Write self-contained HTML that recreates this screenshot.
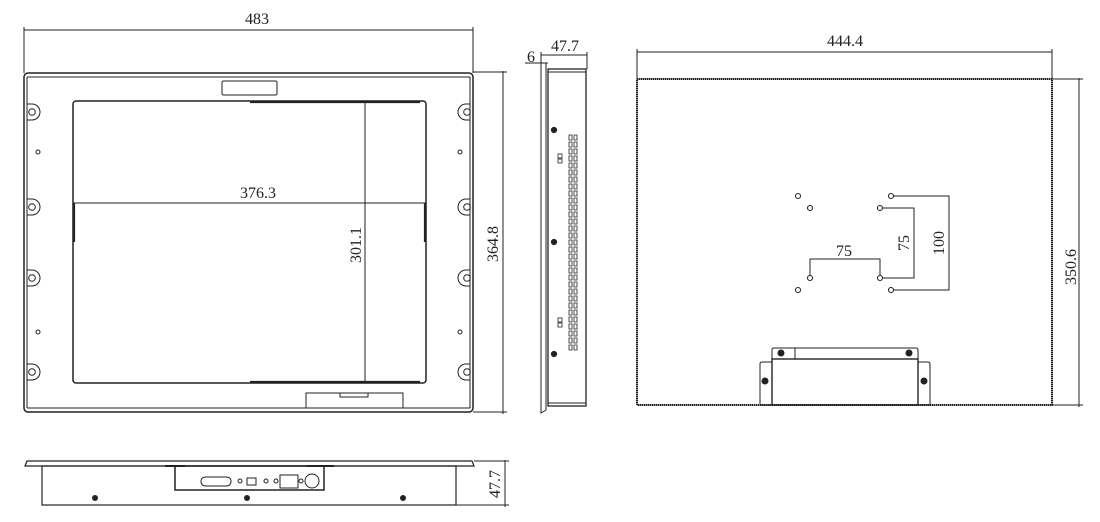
<!DOCTYPE html>
<html><head><meta charset="utf-8"><style>
html,body{margin:0;padding:0;background:#fff;}
svg{display:block}
text{font-family:"Liberation Serif","Noto Serif CJK SC",serif;font-size:16px;fill:#222;}
</style></head><body>
<svg width="1100" height="522" viewBox="0 0 1100 522" xmlns="http://www.w3.org/2000/svg" fill="none" stroke="#222" stroke-width="1">
<!-- FRONT VIEW -->
<line x1="24" y1="30" x2="473" y2="30"/>
<line x1="24" y1="27" x2="24" y2="73"/><line x1="473" y1="27" x2="473" y2="73"/>
<text x="257" y="24" text-anchor="middle" stroke="none">483</text>
<rect x="24" y="73" width="449" height="339" rx="4" stroke-width="1.5"/>
<line x1="27" y1="77" x2="27" y2="408"/><line x1="470" y1="77" x2="470" y2="408"/>
<line x1="27" y1="77" x2="470" y2="77"/><line x1="27" y1="408" x2="470" y2="408"/>
<rect x="73" y="101" width="353" height="282" rx="3" stroke-width="1.5"/>
<line x1="250" y1="102" x2="420" y2="102" stroke-width="2.2"/>
<line x1="250" y1="382" x2="420" y2="382" stroke-width="2.2"/>
<line x1="74" y1="203" x2="74" y2="242" stroke-width="2.2"/>
<line x1="425" y1="203" x2="425" y2="242" stroke-width="2.2"/>
<rect x="222" y="81" width="55" height="14" rx="1.5"/>
<rect x="306" y="393" width="97" height="15"/>
<rect x="340" y="393" width="28" height="4"/>
<line x1="365" y1="101" x2="365" y2="383"/>
<line x1="73" y1="203" x2="426" y2="203"/>
<text x="258" y="198" text-anchor="middle" stroke="none">376.3</text>
<text transform="translate(361,245) rotate(-90)" text-anchor="middle" stroke="none">301.1</text>
<g>
<path d="M27,104 h5 a8,8 0 0 1 0,16 h-5"/><circle cx="32" cy="112" r="3.3"/>
<path d="M27,199 h5 a8,8 0 0 1 0,16 h-5"/><circle cx="32" cy="207" r="3.3"/>
<path d="M27,270 h5 a8,8 0 0 1 0,16 h-5"/><circle cx="32" cy="278" r="3.3"/>
<path d="M27,364 h5 a8,8 0 0 1 0,16 h-5"/><circle cx="32" cy="372" r="3.3"/>
<path d="M470,104 h-4 a8,8 0 0 0 0,16 h4"/><circle cx="467" cy="112" r="3.3"/>
<path d="M470,199 h-4 a8,8 0 0 0 0,16 h4"/><circle cx="467" cy="207" r="3.3"/>
<path d="M470,270 h-4 a8,8 0 0 0 0,16 h4"/><circle cx="467" cy="278" r="3.3"/>
<path d="M470,364 h-4 a8,8 0 0 0 0,16 h4"/><circle cx="467" cy="372" r="3.3"/>
<circle cx="38" cy="152" r="2"/><circle cx="38" cy="332" r="2"/>
<circle cx="460" cy="152" r="2"/><circle cx="460" cy="332" r="2"/>
</g>
<line x1="503" y1="71" x2="503" y2="414"/>
<line x1="473" y1="72" x2="507" y2="72"/><line x1="473" y1="412" x2="507" y2="412"/>
<text transform="translate(498,244) rotate(-90)" text-anchor="middle" stroke="none">364.8</text>

<!-- SIDE VIEW -->
<line x1="541" y1="55" x2="587" y2="55"/>
<line x1="587" y1="52" x2="587" y2="69"/><line x1="541" y1="52" x2="541" y2="63"/>
<line x1="525" y1="63" x2="548" y2="63"/>
<text x="565" y="51" text-anchor="middle" stroke="none">47.7</text>
<text x="531" y="62" text-anchor="middle" stroke="none">6</text>
<path d="M541,63 L546,63 L546,410 L541,413 Z"/>
<rect x="548" y="69" width="38" height="337" stroke-width="1.3"/>
<line x1="548" y1="72" x2="586" y2="72"/><line x1="548" y1="403" x2="586" y2="403"/>
<g fill="#222"><circle cx="554" cy="130" r="2.6"/><circle cx="554" cy="242" r="2.6"/><circle cx="554" cy="354" r="2.6"/></g>
<g stroke-width="0.8">
<rect x="558" y="154" width="4" height="4"/><rect x="558" y="159" width="4" height="4"/>
<rect x="558" y="318" width="4" height="4"/><rect x="558" y="323" width="4" height="4"/>
</g>
<g stroke-width="0.8">
<path d="M569,135 h3 v5 h-3z M574,135 h3 v5 h-3z M569,142 h3 v5 h-3z M574,142 h3 v5 h-3z M569,149 h3 v5 h-3z M574,149 h3 v5 h-3z M569,156 h3 v5 h-3z M574,156 h3 v5 h-3z M569,163 h3 v5 h-3z M574,163 h3 v5 h-3z M569,170 h3 v5 h-3z M574,170 h3 v5 h-3z M569,177 h3 v5 h-3z M574,177 h3 v5 h-3z M569,184 h3 v5 h-3z M574,184 h3 v5 h-3z M569,191 h3 v5 h-3z M574,191 h3 v5 h-3z M569,198 h3 v5 h-3z M574,198 h3 v5 h-3z M569,205 h3 v5 h-3z M574,205 h3 v5 h-3z M569,212 h3 v5 h-3z M574,212 h3 v5 h-3z M569,219 h3 v5 h-3z M574,219 h3 v5 h-3z M569,226 h3 v5 h-3z M574,226 h3 v5 h-3z M569,233 h3 v5 h-3z M574,233 h3 v5 h-3z M569,240 h3 v5 h-3z M574,240 h3 v5 h-3z M569,247 h3 v5 h-3z M574,247 h3 v5 h-3z M569,254 h3 v5 h-3z M574,254 h3 v5 h-3z M569,261 h3 v5 h-3z M574,261 h3 v5 h-3z M569,268 h3 v5 h-3z M574,268 h3 v5 h-3z M569,275 h3 v5 h-3z M574,275 h3 v5 h-3z M569,282 h3 v5 h-3z M574,282 h3 v5 h-3z M569,289 h3 v5 h-3z M574,289 h3 v5 h-3z M569,296 h3 v5 h-3z M574,296 h3 v5 h-3z M569,303 h3 v5 h-3z M574,303 h3 v5 h-3z M569,310 h3 v5 h-3z M574,310 h3 v5 h-3z M569,317 h3 v5 h-3z M574,317 h3 v5 h-3z M569,324 h3 v5 h-3z M574,324 h3 v5 h-3z M569,331 h3 v5 h-3z M574,331 h3 v5 h-3z M569,338 h3 v5 h-3z M574,338 h3 v5 h-3z M569,345 h3 v5 h-3z M574,345 h3 v5 h-3z"/>
</g>

<!-- BACK VIEW -->
<line x1="637" y1="52" x2="1052" y2="52"/>
<line x1="637" y1="49" x2="637" y2="79"/><line x1="1052" y1="49" x2="1052" y2="79"/>
<text x="845" y="46" text-anchor="middle" stroke="none">444.4</text>
<rect x="637" y="79" width="415" height="326" stroke-width="2" stroke-dasharray="1.5,0.5"/>
<line x1="1079" y1="78" x2="1079" y2="407"/>
<line x1="1052" y1="79" x2="1083" y2="79"/><line x1="1052" y1="405" x2="1083" y2="405"/>
<text transform="translate(1076,267) rotate(-90)" text-anchor="middle" stroke="none">350.6</text>
<g stroke-width="1.1">
<circle cx="798" cy="196" r="2.5"/><circle cx="810" cy="208" r="2.5"/>
<circle cx="798" cy="290" r="2.5"/><circle cx="810" cy="278" r="2.5"/>
<circle cx="891" cy="196" r="2.5"/><circle cx="880" cy="208" r="2.5"/>
<circle cx="880" cy="278" r="2.5"/><circle cx="891" cy="290" r="2.5"/>
</g>
<path d="M810,276 V259 H880 V276"/>
<text x="844" y="256" text-anchor="middle" stroke="none">75</text>
<path d="M882,208 H914 V278 H882"/>
<text transform="translate(909,243) rotate(-90)" text-anchor="middle" stroke="none">75</text>
<path d="M893,196 H949 V290 H893"/>
<text transform="translate(944,243) rotate(-90)" text-anchor="middle" stroke="none">100</text>
<path d="M772,359 V350 q0,-2 2,-2 H916 q2,0 2,2 V359"/>
<rect x="772" y="359" width="146" height="46" stroke-width="1.4"/>
<path d="M772,362 H762 q-2,0 -2,2 V405 H772"/>
<path d="M918,362 H928 q2,0 2,2 V405 H918"/>
<line x1="795" y1="348" x2="795" y2="359"/>
<g fill="#222"><circle cx="781" cy="353" r="3"/><circle cx="909" cy="353" r="3"/><circle cx="765" cy="381" r="3"/><circle cx="924" cy="381" r="3"/></g>

<!-- BOTTOM VIEW -->
<path d="M27,461 H472 L474,466 H25 Z" stroke-width="1.2"/>
<rect x="42" y="466" width="414" height="39" stroke-width="1.2"/>
<rect x="175" y="466" width="149" height="24" stroke-width="1.5"/>
<line x1="165" y1="466" x2="185" y2="466" stroke-width="2"/>
<line x1="307" y1="466" x2="334" y2="466" stroke-width="2"/>
<g fill="#222"><circle cx="95" cy="498" r="2.5"/><circle cx="247" cy="498" r="2.5"/><circle cx="403" cy="498" r="2.5"/></g>
<path d="M206,477 H226 Q231,477 231,481.5 Q231,486 226,486 H206 Q201,486 201,481.5 Q201,477 206,477Z"/>
<circle cx="240" cy="481" r="2"/>
<rect x="247" y="478" width="9" height="7"/>
<circle cx="266" cy="481" r="2"/><circle cx="276" cy="481" r="2"/>
<rect x="280" y="475" width="18" height="13"/>
<circle cx="301" cy="481" r="2"/>
<circle cx="312" cy="481" r="7"/>
<line x1="505" y1="460" x2="505" y2="507"/>
<line x1="474" y1="461" x2="509" y2="461"/><line x1="456" y1="505" x2="509" y2="505"/>
<text transform="translate(500,484) rotate(-90)" text-anchor="middle" stroke="none">47.7</text>
</svg>
</body></html>
